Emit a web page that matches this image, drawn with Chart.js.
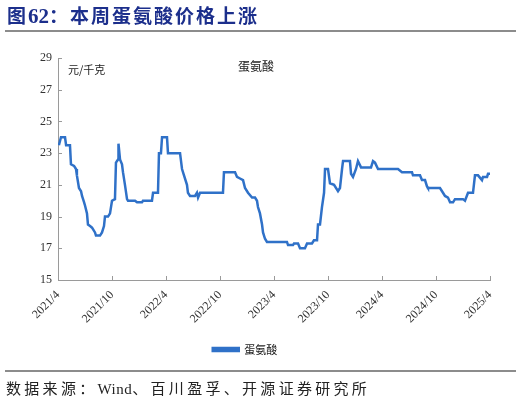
<!DOCTYPE html>
<html>
<head>
<meta charset="utf-8">
<script src="https://cdn.jsdelivr.net/npm/chart.js@4.4.0/dist/chart.umd.min.js"></script>
<style>
body{margin:0;width:521px;height:405px;background:#fff;position:relative;overflow:hidden;font-family:"Noto Sans CJK SC",sans-serif;}
#title{position:absolute;left:7px;top:1px;font-size:19px;font-weight:bold;color:#1c2f8c;white-space:nowrap;letter-spacing:2px;}
#title .num{font-family:"Liberation Serif",serif;font-size:21px;letter-spacing:0;}
.rule{position:absolute;left:5px;width:511px;height:2px;background:#8c8c8c;}
#src{position:absolute;left:6px;top:377px;font-size:15px;color:#222;letter-spacing:3.3px;white-space:nowrap;}
#src .en{font-family:"Liberation Serif",serif;letter-spacing:0.5px;}
#wrap{position:absolute;left:0;top:0;width:521px;height:405px;}
</style>
</head>
<body>
<div id="wrap"><canvas id="myChart"></canvas></div>
<div id="title">图<span class="num">62</span>：本周蛋氨酸价格上涨</div>
<div class="rule" style="top:30px"></div>
<div class="rule" style="top:370px"></div>
<div id="src">数据来源：<span class="en">Wind</span>、百川盈孚、开源证券研究所</div>
<script>
// months since 2021/4, and price in yuan/kg
const months = [
    0.1, 0.33, 0.78, 0.9, 1.33, 1.44, 1.78, 2.0, 2.1, 2.33, 2.56, 2.67, 2.9, 3.0, 3.22, 3.33,
    3.56, 3.78, 4.11, 4.22, 4.67, 4.89, 5.11, 5.22, 5.56, 5.78, 6.0, 6.33, 6.44, 6.67, 6.72, 6.89,
    7.11, 7.22, 7.44, 7.67, 7.78, 8.56, 8.78, 9.33, 9.44, 10.44, 10.56, 11.11, 11.22, 11.44, 11.56, 12.11,
    12.22, 13.56, 13.78, 14.0, 14.33, 14.44, 14.67, 15.22, 15.44, 15.56, 15.78, 18.33, 18.44, 19.67,
    19.89, 20.22, 20.56, 20.78, 21.11, 21.56, 21.89, 22.11, 22.22, 22.44, 22.67, 22.78, 23.0, 23.22,
    25.44, 25.56, 26.11, 26.22, 26.67, 26.89, 27.44, 27.67, 28.22, 28.44, 28.78, 28.89, 29.11, 29.33,
    29.56, 29.67, 30.0, 30.22, 30.67, 31.11, 31.33, 31.56, 31.67, 32.44, 32.56, 32.78, 33.11, 33.33,
    33.67, 34.78, 35.0, 35.22, 35.56, 37.78, 38.22, 39.33, 39.44, 40.22, 40.44, 40.78, 41.0, 41.11,
    42.44, 42.67, 43.0, 43.33, 43.56, 43.89, 44.11, 45.0, 45.22, 45.56, 46.11, 46.33, 46.67, 47.11,
    47.22, 47.67, 47.78, 48.1
];
const prices = [
    23.5, 24.0, 24.0, 23.5, 23.5, 22.3, 22.2, 22.0, 21.6, 20.8, 20.6, 20.3, 19.9, 19.7, 19.2, 18.5,
    18.4, 18.3, 18.0, 17.8, 17.8, 18.0, 18.4, 19.0, 19.0, 19.2, 20.0, 20.1, 22.4, 22.6, 23.6, 22.6,
    22.3, 21.8, 21.0, 20.1, 20.0, 20.0, 19.9, 19.9, 20.0, 20.0, 20.5, 20.5, 23.0, 23.0, 24.0, 24.0,
    23.0, 23.0, 22.0, 21.6, 21.0, 20.5, 20.3, 20.3, 20.5, 20.2, 20.5, 20.5, 21.8, 21.8,
    21.5, 21.4, 21.3, 20.8, 20.5, 20.2, 20.2, 20.0, 19.6, 19.2, 18.5, 18.0, 17.6, 17.4,
    17.4, 17.2, 17.2, 17.3, 17.3, 17.0, 17.0, 17.3, 17.3, 17.5, 17.5, 18.5, 18.5, 19.6,
    20.5, 22.0, 22.0, 21.1, 21.0, 20.6, 20.8, 22.0, 22.5, 22.5, 21.7, 21.5, 22.0, 22.5,
    22.1, 22.1, 22.5, 22.4, 22.0, 22.0, 21.8, 21.8, 21.6, 21.6, 21.3, 21.3, 20.9, 20.8,
    20.8, 20.6, 20.3, 20.2, 19.9, 19.9, 20.1, 20.1, 20.0, 20.5, 20.5, 21.6, 21.6, 21.3,
    21.5, 21.5, 21.7, 21.7
];
const tickLabels = ['2021/4', '2021/10', '2022/4', '2022/10', '2023/4', '2023/10', '2024/4', '2024/10', '2025/4'];
const seriesName = '蛋氨酸';
const unitLabel = '元/千克';

const blue = '#2f71c8';

// inward tick marks + the two notes inside the plot
const decor = {
    id: 'decor',
    afterDraw(chart) {
        const {ctx, chartArea: a, scales: {x, y}} = chart;
        ctx.save();
        ctx.strokeStyle = '#9a9a9a';
        ctx.lineWidth = 1;
        ctx.beginPath();
        x.ticks.forEach(t => {
            const px = Math.round(x.getPixelForValue(t.value)) + 0.5;
            ctx.moveTo(px, a.bottom);
            ctx.lineTo(px, a.bottom - 4);
        });
        y.ticks.forEach(t => {
            const py = Math.round(y.getPixelForValue(t.value)) + 0.5;
            ctx.moveTo(a.left, py);
            ctx.lineTo(a.left + 4, py);
        });
        ctx.stroke();
        ctx.fillStyle = '#222';
        ctx.textBaseline = 'middle';
        ctx.font = '11px "Noto Sans CJK SC"';
        ctx.fillText(unitLabel, a.left + 10, a.top + 12);
        ctx.font = '12px "Noto Sans CJK SC"';
        ctx.fillText(seriesName, a.left + 180, a.top + 8);
        ctx.restore();
    }
};

const ctx = document.getElementById('myChart').getContext('2d');
new Chart(ctx, {
    type: 'line',
    data: {
        datasets: [{
            label: seriesName,
            data: months.map((m, i) => ({x: m, y: prices[i]})),
            borderColor: blue,
            backgroundColor: blue,
            borderWidth: 2.5,
            pointRadius: 0,
            tension: 0
        }]
    },
    options: {
        responsive: true,
        maintainAspectRatio: false,
        animation: false,
        layout: {padding: {top: 58, right: 31, bottom: 40, left: 0}},
        plugins: {
            legend: {
                position: 'bottom',
                labels: {
                    boxWidth: 26,
                    boxHeight: 3,
                    color: '#222',
                    font: {family: 'Noto Sans CJK SC', size: 11}
                }
            },
            tooltip: {enabled: false}
        },
        scales: {
            x: {
                type: 'linear',
                min: 0,
                max: 48,
                afterBuildTicks: s => { s.ticks = tickLabels.map((_, i) => ({value: i * 6})); },
                afterFit: s => { s.height = 54; },
                grid: {drawOnChartArea: false, drawTicks: false},
                border: {display: true, color: '#9a9a9a'},
                ticks: {
                    autoSkip: false,
                    maxRotation: 45,
                    minRotation: 45,
                    padding: 8,
                    color: '#333',
                    font: {family: 'Liberation Serif', size: 12},
                    callback: v => tickLabels[v / 6]
                }
            },
            y: {
                min: 15,
                max: 29,
                afterFit: s => { s.width = 58; },
                grid: {drawOnChartArea: false, drawTicks: false},
                border: {display: true, color: '#9a9a9a'},
                ticks: {
                    stepSize: 2,
                    padding: 6,
                    color: '#333',
                    font: {family: 'Liberation Serif', size: 12}
                }
            }
        }
    },
    plugins: [decor]
});
</script>
</body>
</html>
